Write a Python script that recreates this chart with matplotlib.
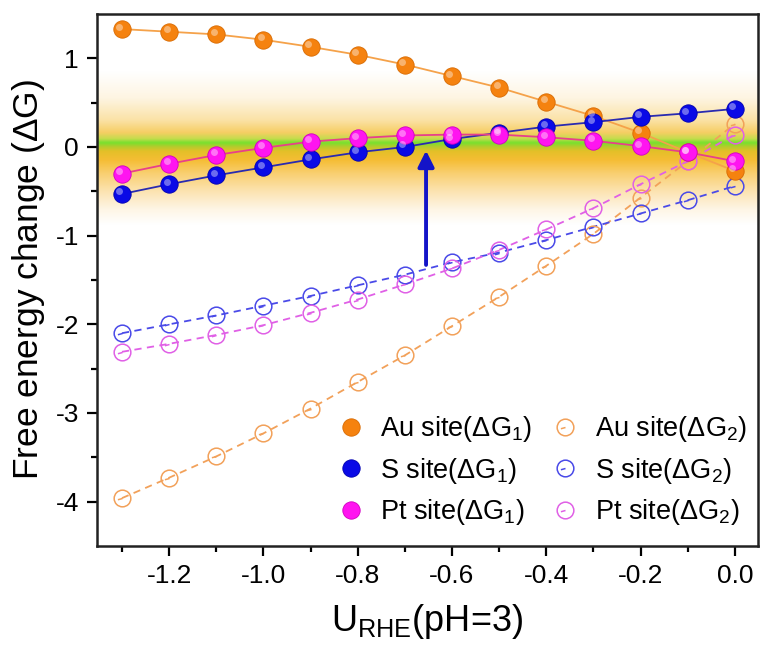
import numpy as np
import matplotlib
matplotlib.use('Agg')
import matplotlib.pyplot as plt
from matplotlib.path import Path
from matplotlib.colors import LinearSegmentedColormap
import matplotlib.transforms as mtransforms

plt.rcParams['font.family'] = ['Liberation Sans', 'DejaVu Sans']
plt.rcParams['mathtext.fontset'] = 'custom'
plt.rcParams['mathtext.rm'] = 'Liberation Sans'
plt.rcParams['mathtext.it'] = 'Liberation Sans'

# potential (V vs RHE)
u_rhe = [-1.3, -1.2, -1.1, -1.0, -0.9, -0.8, -0.7, -0.6, -0.5, -0.4, -0.3, -0.2, -0.1, 0.0]

# first step free energy change
au_g1 = [1.33, 1.30, 1.27, 1.21, 1.13, 1.04, 0.93, 0.80, 0.67, 0.51, 0.35, 0.16, -0.06, -0.27]
s_g1 = [-0.53, -0.42, -0.32, -0.23, -0.14, -0.06, 0.00, 0.09, 0.16, 0.23, 0.28, 0.34, 0.38, 0.43]
pt_g1 = [-0.30, -0.19, -0.09, -0.01, 0.06, 0.10, 0.13, 0.14, 0.14, 0.11, 0.07, 0.01, -0.06, -0.16]

# second step free energy change
au_g2 = [-3.96, -3.73, -3.49, -3.23, -2.95, -2.65, -2.35, -2.02, -1.69, -1.34, -0.98, -0.57, -0.16, 0.26]
s_g2 = [-2.10, -2.00, -1.90, -1.79, -1.68, -1.56, -1.44, -1.30, -1.19, -1.05, -0.90, -0.75, -0.60, -0.44]
pt_g2 = [-2.31, -2.22, -2.12, -2.01, -1.87, -1.72, -1.55, -1.37, -1.16, -0.93, -0.69, -0.42, -0.16, 0.14]

series_labels = ['Au site', 'S site', 'Pt site']

fig = plt.figure(figsize=(7.6, 6.51), dpi=100)
ax = fig.add_axes([0.1276, 0.1613, 0.8697, 0.8172])
xlim = (-1.353, 0.049)
ylim = (-4.5, 1.5)

# glowing band around 0 eV
stops = [(-0.88, '#ffffff'), (-0.70, '#fef5e4'), (-0.50, '#fce3b0'), (-0.30, '#f9cf70'),
         (-0.15, '#f5bd34'), (-0.05, '#e4c028'), (0.00, '#b4cc2c'), (0.045, '#78e02e'),
         (0.09, '#c4dc4c'), (0.16, '#f6ce64'), (0.30, '#fbe2a6'), (0.55, '#fef5e2'),
         (0.85, '#ffffff')]
lo, hi = stops[0][0], stops[-1][0]
cmap = LinearSegmentedColormap.from_list(
    'band', [((v - lo) / (hi - lo), c) for v, c in stops])
grad = np.linspace(0, 1, 400).reshape(-1, 1)
ax.imshow(grad, cmap=cmap, aspect='auto', origin='lower',
          extent=[xlim[0], xlim[1], lo, hi], zorder=0, interpolation='bilinear')

# open circle marker with a little tick inside
circ = Path.unit_circle()
tick = Path([(0, 0), (-0.55, -0.15)], [Path.MOVETO, Path.LINETO])
ring = Path.make_compound_path(circ, tick)

g1_colors = ['#f5820f', '#0a0ae6', '#ff14f0']
g1_edges = ['#d86a00', '#0000b0', '#d000c0']
g1_lines = ['#f5a24a', '#2a2ab0', '#e8408a']
g2_colors = ['#f2a15a', '#4a4ae8', '#e060e6']

hl = mtransforms.offset_copy(ax.transData, fig=fig, x=-2.5, y=2.5, units='dots')

for vals, col, ecol, lcol, lab in zip([au_g1, s_g1, pt_g1], g1_colors, g1_edges,
                                      g1_lines, series_labels):
    ax.plot(u_rhe, vals, '-', color=lcol, lw=1.3, zorder=3)
    ax.plot(u_rhe, vals, 'o', ms=12.5, mfc=col, mec=ecol, mew=0.6, zorder=4,
            label=lab + '($\\Delta$G$_1$)')
    ax.plot(u_rhe, vals, 'o', ms=5, mfc='white', mec='none', alpha=0.4,
            transform=hl, zorder=5)

for vals, col, lab in zip([au_g2, s_g2, pt_g2], g2_colors, series_labels):
    ax.plot(u_rhe, vals, '--', color=col, lw=1.3, dashes=(4, 3), zorder=2)
    ax.plot(u_rhe, vals, ls='none', marker=ring, ms=12, mfc='none', mec=col,
            mew=1.1, zorder=3, label=lab + '($\\Delta$G$_2$)')

ax.annotate('', xy=(-0.655, -0.04), xytext=(-0.655, -1.33),
            arrowprops=dict(arrowstyle='-|>', color='#1414c8', lw=2.8,
                            mutation_scale=24, shrinkA=0, shrinkB=0), zorder=6)

ax.set_xlim(*xlim)
ax.set_ylim(*ylim)
ax.set_xticks([-1.2, -1.0, -0.8, -0.6, -0.4, -0.2, 0.0])
ax.set_xticks([-1.3, -1.1, -0.9, -0.7, -0.5, -0.3, -0.1], minor=True)
ax.set_xticklabels(['-1.2', '-1.0', '-0.8', '-0.6', '-0.4', '-0.2', '0.0'])
ax.set_yticks([1, 0, -1, -2, -3, -4])
ax.set_yticks([0.5, -0.5, -1.5, -2.5, -3.5], minor=True)
ax.set_yticklabels(['1', '0', '-1', '-2', '-3', '-4'])
ax.tick_params(which='major', direction='out', length=7, width=1.6, labelsize=19, pad=6)
ax.tick_params(which='minor', direction='out', length=4, width=1.6)
for s in ax.spines.values():
    s.set_linewidth(1.8)
    s.set_color('#222222')

ax.set_xlabel('U$_{\\mathrm{RHE}}$(pH=3)', fontsize=26, labelpad=10)
ax.set_ylabel('Free energy change ($\\Delta$G)', fontsize=25.5, labelpad=6)

handles, labels = ax.get_legend_handles_labels()
leg = ax.legend(handles, labels, ncol=2, loc='lower right', bbox_to_anchor=(1.012, 0.0),
                frameon=False, fontsize=19.5, handletextpad=0.5, columnspacing=0.6,
                labelspacing=0.42, handlelength=1.2, borderaxespad=0.3)

fig.savefig('out.png', dpi=100)
